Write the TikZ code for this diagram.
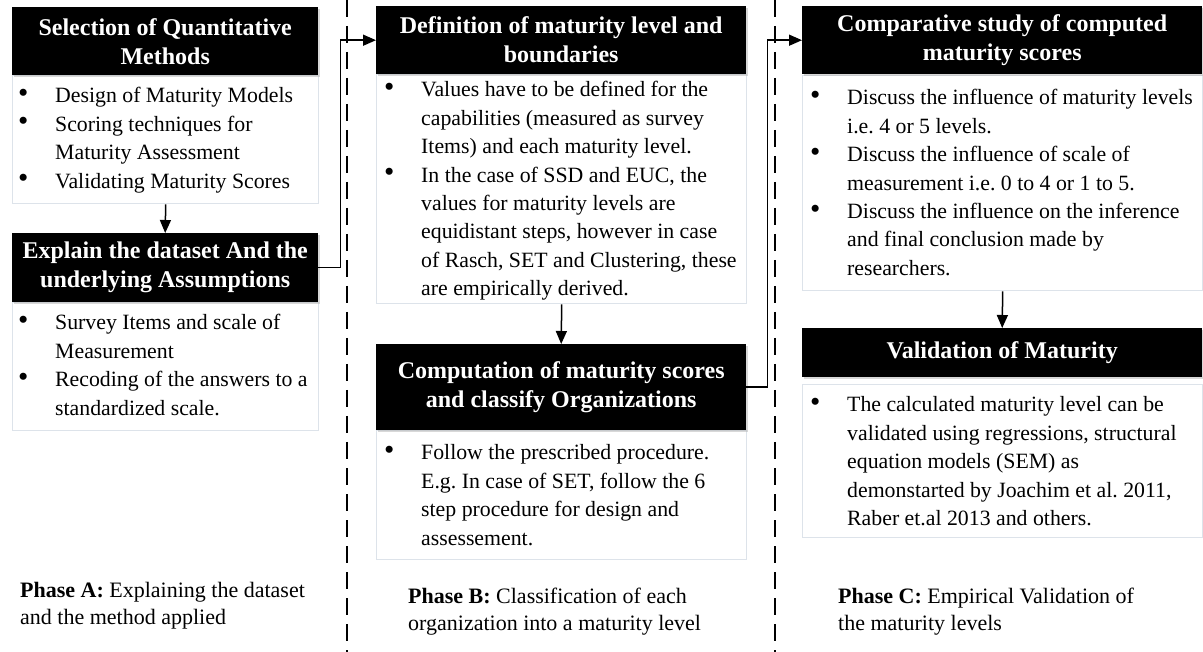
\documentclass[tikz,border=0pt]{standalone}
\usepackage{fontspec}
\setmainfont{Liberation Serif}
\usetikzlibrary{arrows.meta,shadows}
\definecolor{bodyline}{HTML}{DDE3EA}
\newcommand{\bul}{\raisebox{0.5pt}{\scalebox{1.35}{\textbullet}}}
\frenchspacing
\begin{document}
\frenchspacing
\begin{tikzpicture}[x=1pt,y=-1pt,
 head/.style={fill=black,text=white,inner sep=0pt,anchor=north west,align=center,
   font=\bfseries\fontsize{24}{29}\selectfont,
   drop shadow={shadow xshift=1.5pt,shadow yshift=-1.5pt,fill=black!30}},
 body/.style={draw=bodyline,line width=1.4pt,fill=white,inner sep=0pt,anchor=north west},
 txt/.style={inner sep=0pt,anchor=base west,font=\fontsize{21.8}{28.4}\selectfont},
 phase/.style={inner sep=0pt,anchor=base west,font=\fontsize{22}{27}\selectfont},
 conn/.style={line width=1.5pt,-{Triangle[length=13pt,width=11pt]}},
 sep/.style={line width=1.8pt,dash pattern=on 17pt off 9pt}]
\useasboundingbox (0,0) rectangle (1203,652);

% separators
\coordinate (d1t) at (347,0);
\coordinate (d1b) at (347,652);
\coordinate (d2t) at (775,0);
\coordinate (d2b) at (775,652);
\draw[sep] (d1t) -- (d1b);
\draw[sep] (d2t) -- (d2b);

% bodies
\node[body,minimum width=306pt,minimum height=128pt] (bA1) at (12,75) {};
\node[body,minimum width=306pt,minimum height=128pt] (bA2) at (12,302) {};
\node[body,minimum width=370pt,minimum height=229pt] (bB1) at (376,74) {};
\node[body,minimum width=370pt,minimum height=129pt] (bB2) at (376,430) {};
\node[body,minimum width=400pt,minimum height=215pt] (bC1) at (802,75) {};
\node[body,minimum width=400pt,minimum height=153pt] (bC2) at (802,384) {};

% headers
\node[head,minimum width=306pt,minimum height=68pt] (hA1) at (12,7) {Selection of Quantitative\\Methods};
\node[head,minimum width=306pt,minimum height=69pt] (hA2) at (12,233) {Explain the dataset And the\\underlying Assumptions};
\node[head,minimum width=370pt,minimum height=68pt] (hB1) at (376,6) {Definition of maturity level and\\boundaries};
\node[head,minimum width=370pt,minimum height=86pt] (hB2) at (376,344) {Computation of maturity scores\\and classify Organizations};
\node[head,minimum width=400pt,minimum height=68pt] (hC1) at (802,6) {Comparative study of computed\\maturity scores};
\node[head,minimum width=400pt,minimum height=49pt] (hC2) at (802,328) {Validation of Maturity};

% body texts
\node[txt] (tA1) at (18,103) {\frenchspacing\begin{tabular}[t]{@{}p{37pt}@{}l@{}}
\bul & Design of Maturity Models\\
\bul & Scoring techniques for\\
 & Maturity Assessment\\
\bul & Validating Maturity Scores
\end{tabular}};
\node[txt] (tA2) at (18,330) {\frenchspacing\begin{tabular}[t]{@{}p{37pt}@{}l@{}}
\bul & Survey Items and scale of\\
 & Measurement\\
\bul & Recoding of the answers to a\\
 & standardized scale.
\end{tabular}};
\node[txt] (tB1) at (384,97) {\frenchspacing\begin{tabular}[t]{@{}p{37pt}@{}l@{}}
\bul & Values have to be defined for the\\
 & capabilities (measured as survey\\
 & Items) and each maturity level.\\
\bul & In the case of SSD and EUC, the\\
 & values for maturity levels are\\
 & equidistant steps, however in case\\
 & of Rasch, SET and Clustering, these\\
 & are empirically derived.
\end{tabular}};
\node[txt] (tB2) at (384,460) {\frenchspacing\begin{tabular}[t]{@{}p{37pt}@{}l@{}}
\bul & Follow the prescribed procedure.\\
 & E.g. In case of SET, follow the 6\\
 & step procedure for design and\\
 & assessement.
\end{tabular}};
\node[txt] (tC1) at (810,105) {\frenchspacing\begin{tabular}[t]{@{}p{37pt}@{}l@{}}
\bul & Discuss the influence of maturity levels\\
 & i.e. 4 or 5 levels.\\
\bul & Discuss the influence of scale of\\
 & measurement i.e. 0 to 4 or 1 to 5.\\
\bul & Discuss the influence on the inference\\
 & and final conclusion made by\\
 & researchers.
\end{tabular}};
\node[txt] (tC2) at (810,412) {\frenchspacing\begin{tabular}[t]{@{}p{37pt}@{}l@{}}
\bul & The calculated maturity level can be\\
 & validated using regressions, structural\\
 & equation models (SEM) as\\
 & demonstarted by Joachim et al. 2011,\\
 & Raber et.al 2013 and others.
\end{tabular}};

% phase captions
\node[phase] (pA) at (20,597) {\begin{tabular}[t]{@{}l@{}}
\textbf{Phase A:} Explaining the dataset\\
and the method applied
\end{tabular}};
\node[phase] (pB) at (408,603) {\begin{tabular}[t]{@{}l@{}}
\textbf{Phase B:} Classification of each\\
organization into a maturity level
\end{tabular}};
\node[phase] (pC) at (838,603) {\begin{tabular}[t]{@{}l@{}}
\textbf{Phase C:} Empirical Validation of\\
the maturity levels
\end{tabular}};

% connectors
\draw[conn] (bA1.south) -- (hA2.north);
\draw[conn] (bB1.south) -- (hB2.north);
\draw[conn] (bC1.south) -- (hC2.north);
\draw[conn] (hA2.east) -- ++(22,0) |- (hB1.west);
\draw[conn] (hB2.east) -- ++(21,0) |- (hC1.west);
\end{tikzpicture}
\end{document}
